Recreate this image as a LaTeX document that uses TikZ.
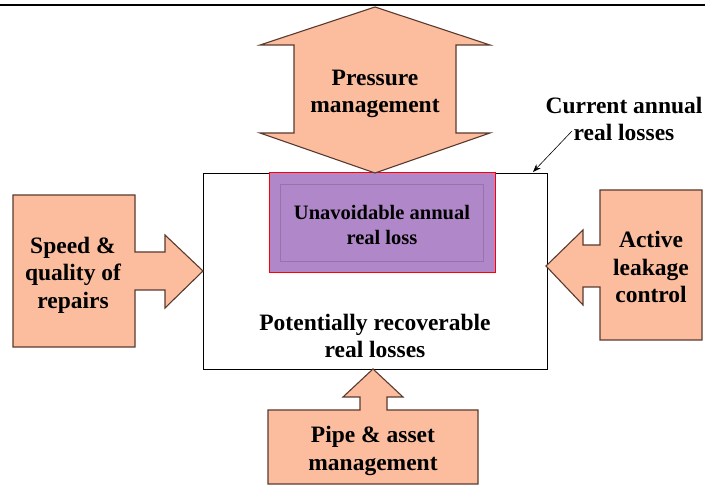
\documentclass[tikz,border=0pt]{standalone}
\usepackage{fontspec}
\setmainfont{Liberation Serif}
\usetikzlibrary{arrows.meta,calc}
\definecolor{peach}{HTML}{FBBD9E}
\definecolor{peachedge}{HTML}{5A3A2E}
\definecolor{lilac}{HTML}{B087C9}
\begin{document}
\begin{tikzpicture}[x=1pt,y=-1pt,
  every node/.style={font=\fontsize{23.5}{27.5}\selectfont\bfseries,align=center},
  blockarrow/.style={draw=peachedge,line width=1.1pt,fill=peach,line join=miter}
  ]
\useasboundingbox (0,0) rectangle (705,486);
\draw[line width=2.2pt] (0,5) -- (705,5);
% main box
\node[draw,line width=0.8pt,minimum width=344pt,minimum height=196pt] (main) at (375,271) {};
\node (recov) at (375,336) {Potentially recoverable\\real losses};
% unavoidable losses
\node[draw=red,line width=1pt,fill=lilac,minimum width=226pt,minimum height=100pt] (unav) at (382,223) {};
\draw[lilac!85!black,line width=0.5pt] ($(unav.north west)+(12,12)$) rectangle ($(unav.south east)+(-12,-12)$);
\node[font=\fontsize{20.5}{25}\selectfont\bfseries] (unavtxt) at (382,225) {Unavoidable annual\\real loss};
% pressure management
\draw[blockarrow] (375,7) -- (490,45) -- (456,45) -- (456,133) -- (490,133) -- (375,173)
  -- (260,133) -- (294,133) -- (294,45) -- (260,45) -- cycle;
\node (press) at (375,94) {Pressure\\management};
% speed and quality of repairs
\draw[blockarrow] (13,195) -- (135,195) -- (135,252) -- (165,252) -- (165,235) -- (203,271)
  -- (165,308) -- (165,290) -- (135,290) -- (135,347) -- (13,347) -- cycle;
\node (speed) at (73,275) {Speed \&\\quality of\\repairs};
% active leakage control
\draw[blockarrow] (702,190) -- (600,190) -- (600,245) -- (583,245) -- (583,230) -- (546,266)
  -- (583,305) -- (583,287) -- (600,287) -- (600,340) -- (702,340) -- cycle;
\node (leak) at (651,267) {Active\\leakage\\control};
% pipe and asset management
\draw[blockarrow] (373,369) -- (403,397) -- (387,397) -- (387,410) -- (478,410) -- (478,484)
  -- (268,484) -- (268,410) -- (360,410) -- (360,397) -- (343,397) -- cycle;
\node (pipe) at (373,451) {Pipe \& asset\\management};
% current losses
\node (curr) at (624,119) {Current annual\\real losses};
\coordinate (currfrom) at (572,131);
\coordinate (currto) at (533,172);
\draw[-{Stealth[length=8pt,width=6pt]},line width=0.6pt] (currfrom) -- (currto);
\end{tikzpicture}
\end{document}
